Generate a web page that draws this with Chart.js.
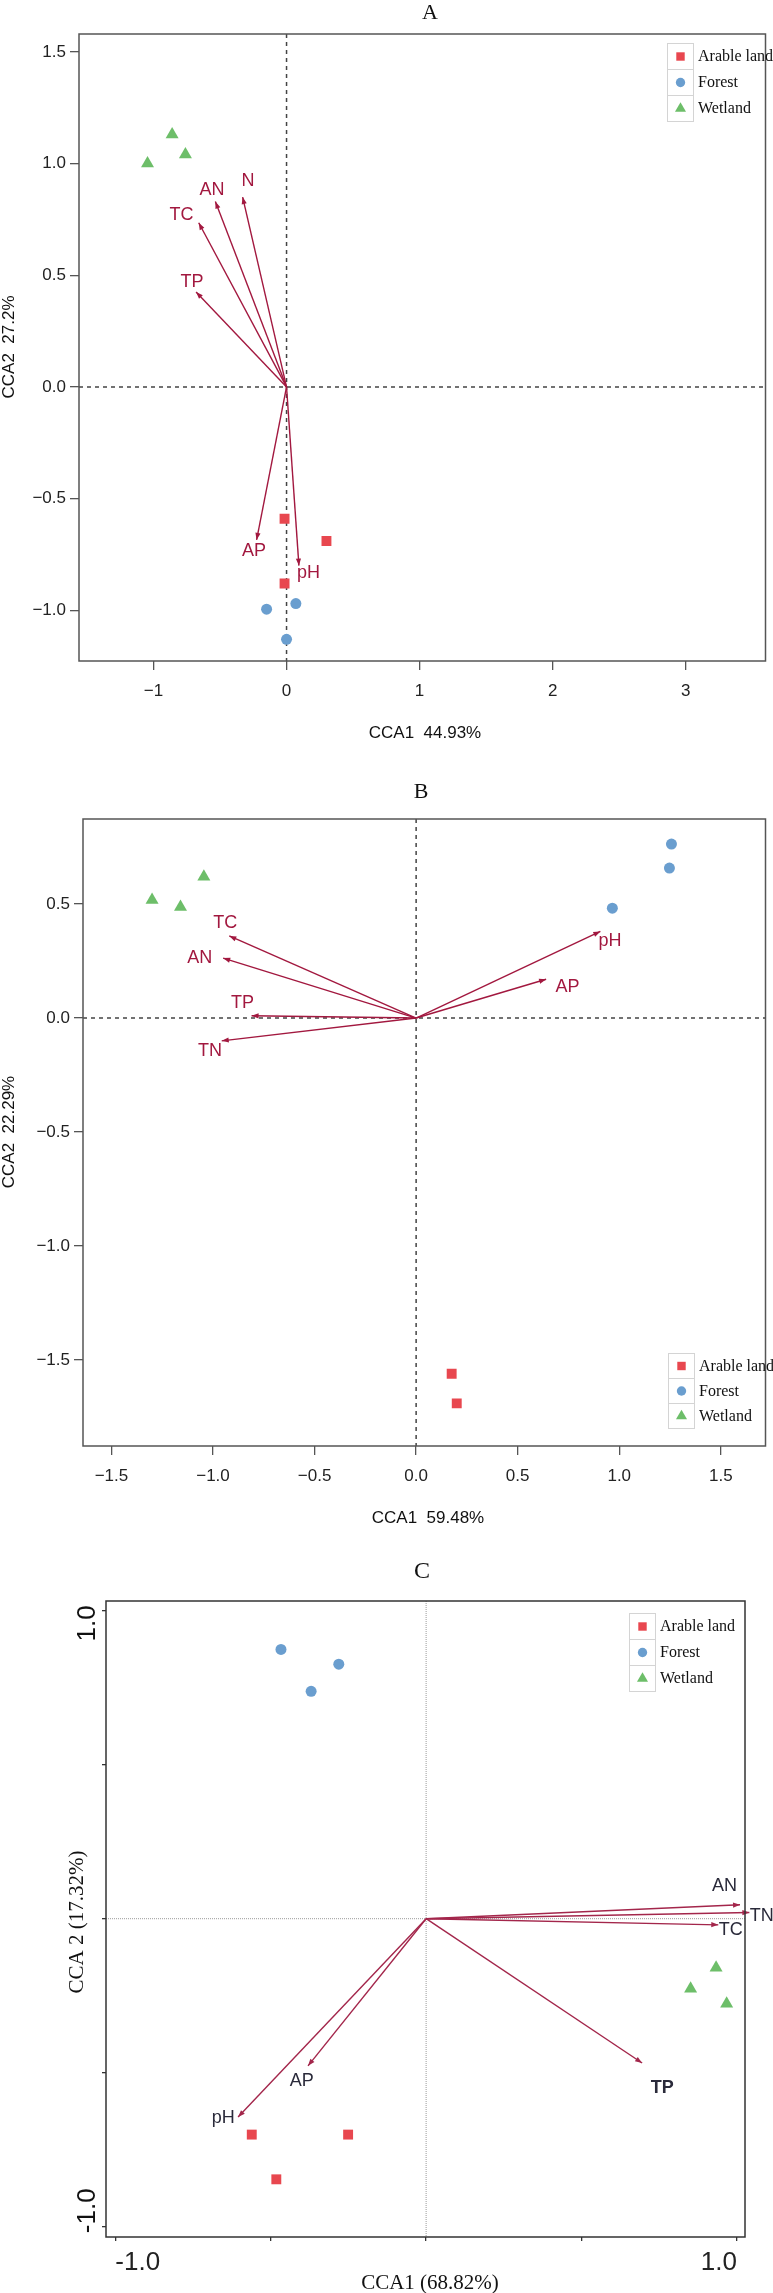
<!DOCTYPE html>
<html>
<head>
<meta charset="utf-8">
<script src="https://cdn.jsdelivr.net/npm/chart.js@4.4.1/dist/chart.umd.min.js"></script>
<style>
  body { margin: 0; background: #fff; }
  #wrap { position: relative; width: 773px; height: 2293px; }
  canvas { position: absolute; left: 0; }
</style>
</head>
<body>
<div id="wrap">
  <canvas id="cca-a" width="773" height="750" style="top:0"></canvas>
  <canvas id="cca-b" width="773" height="790" style="top:750px"></canvas>
  <canvas id="cca-c" width="773" height="753" style="top:1540px"></canvas>
</div>
<script>
// groups (same for all panels)
const groups = ['Arable land', 'Forest', 'Wetland'];
const groupColors = ['#E8474F', '#6A9ECF', '#6DBE69'];
const groupStyles = ['rect', 'circle', 'triangle'];
const groupRadius = [7, 5.5, 7.5];

// ---- Panel A : CCA1 44.93% / CCA2 27.2%
const aArableX = [-0.015, 0.30, -0.015];
const aArableY = [-0.59, -0.69, -0.88];
const aForestX = [-0.15, 0.07, 0.0];
const aForestY = [-0.995, -0.97, -1.13];
const aWetlandX = [-1.045, -0.86, -0.76];
const aWetlandY = [1.0, 1.13, 1.04];
const aEnv = ['N', 'AN', 'TC', 'TP', 'AP', 'pH'];
const aEnvX = [-0.33, -0.535, -0.66, -0.68, -0.225, 0.093];
const aEnvY = [0.85, 0.83, 0.735, 0.425, -0.685, -0.80];
const aLabelX = [-0.29, -0.56, -0.79, -0.71, -0.245, 0.165];
const aLabelY = [0.92, 0.88, 0.77, 0.47, -0.735, -0.835];
const aXTicks = [-1, 0, 1, 2, 3];
const aYTicks = [-1.0, -0.5, 0.0, 0.5, 1.0, 1.5];

// ---- Panel B : CCA1 59.48% / CCA2 22.29%
const bArableX = [0.175, 0.20];
const bArableY = [-1.56, -1.69];
const bForestX = [0.966, 1.247, 1.257];
const bForestY = [0.482, 0.658, 0.763];
const bWetlandX = [-1.30, -1.16, -1.045];
const bWetlandY = [0.518, 0.487, 0.62];
const bEnv = ['TC', 'AN', 'TP', 'TN', 'pH', 'AP'];
const bEnvX = [-0.92, -0.95, -0.81, -0.957, 0.907, 0.64];
const bEnvY = [0.36, 0.263, 0.01, -0.10, 0.38, 0.17];
const bLabelX = [-0.94, -1.065, -0.855, -1.015, 0.955, 0.745];
const bLabelY = [0.417, 0.263, 0.066, -0.145, 0.338, 0.135];
const bXTicks = [-1.5, -1.0, -0.5, 0.0, 0.5, 1.0, 1.5];
const bYTicks = [-1.5, -1.0, -0.5, 0.0, 0.5];

// ---- Panel C : CCA1 (68.82%) / CCA 2 (17.32%)
const cArableX = [-0.561, -0.251, -0.482];
const cArableY = [-0.70, -0.70, -0.845];
const cForestX = [-0.467, -0.281, -0.37];
const cForestY = [0.873, 0.825, 0.737];
const cWetlandX = [0.933, 0.851, 0.967];
const cWetlandY = [-0.159, -0.227, -0.276];
const cEnv = ['AN', 'TN', 'TC', 'TP', 'AP', 'pH'];
const cEnvX = [1.01, 1.04, 0.94, 0.695, -0.38, -0.605];
const cEnvY = [0.045, 0.02, -0.02, -0.468, -0.477, -0.643];
const cLabelX = [0.96, 1.08, 0.98, 0.76, -0.40, -0.653];
const cLabelY = [0.107, 0.01, -0.038, -0.55, -0.525, -0.647];
const cTicks = [-1.0, -0.5, 0.0, 0.5, 1.0];

const SANS = '"Liberation Sans", Arial, sans-serif';
const SERIF = '"Liberation Serif", "Times New Roman", serif';
const minus = v => (v < 0 ? '\u2212' : '') + Math.abs(v);
const fmt1 = v => (v < 0 ? '\u2212' : '') + Math.abs(v).toFixed(1);

// рамка, нулевые линии, стрелки, подписи, легенда
const decor = {
  id: 'decor',
  beforeDatasetsDraw(chart, args, o) {
    const { ctx, chartArea: a, scales: { x, y } } = chart;
    const x0 = x.getPixelForValue(0), y0 = y.getPixelForValue(0);
    ctx.save();
    ctx.strokeStyle = o.zero.color;
    ctx.lineWidth = o.zero.width;
    ctx.setLineDash(o.zero.dash);
    ctx.beginPath();
    ctx.moveTo(x0, a.top); ctx.lineTo(x0, a.bottom);
    ctx.moveTo(a.left, y0); ctx.lineTo(a.right, y0);
    ctx.stroke();
    ctx.restore();
  },
  afterDatasetsDraw(chart, args, o) {
    const { ctx, scales: { x, y } } = chart;
    ctx.save();
    chart.data.datasets.forEach((ds, i) => {
      if (!ds.envLabel) return;
      const pts = chart.getDatasetMeta(i).data;
      const p0 = pts[0], p1 = pts[1];
      const ang = Math.atan2(p1.y - p0.y, p1.x - p0.x);
      const hl = 7, hw = 2.6;
      const c = Math.cos(ang), s = Math.sin(ang);
      ctx.fillStyle = ds.borderColor;
      ctx.beginPath();
      ctx.moveTo(p1.x, p1.y);
      ctx.lineTo(p1.x - hl * c + hw * s, p1.y - hl * s - hw * c);
      ctx.lineTo(p1.x - hl * c - hw * s, p1.y - hl * s + hw * c);
      ctx.closePath();
      ctx.fill();
      ctx.fillStyle = o.labelColor;
      ctx.font = (ds.bold ? 'bold ' : '') + o.labelFont;
      ctx.textAlign = 'center';
      ctx.textBaseline = 'middle';
      ctx.fillText(ds.envLabel, x.getPixelForValue(ds.labelAt.x), y.getPixelForValue(ds.labelAt.y));
    });
    ctx.restore();
  },
  afterDraw(chart, args, o) {
    const { ctx, chartArea: a } = chart;
    ctx.save();
    // рамка
    ctx.strokeStyle = o.frame.color;
    ctx.lineWidth = o.frame.width;
    ctx.strokeRect(a.left, a.top, a.right - a.left, a.bottom - a.top);

    // заголовки
    ctx.fillStyle = '#111';
    ctx.textAlign = 'center';
    ctx.textBaseline = 'middle';
    ctx.font = o.title.font;
    ctx.fillText(o.title.text, o.title.x, o.title.y);
    ctx.font = o.xTitle.font;
    ctx.fillText(o.xTitle.text, o.xTitle.x, o.xTitle.y);
    ctx.save();
    ctx.translate(o.yTitle.x, o.yTitle.y);
    ctx.rotate(-Math.PI / 2);
    ctx.font = o.yTitle.font;
    ctx.fillText(o.yTitle.text, 0, 0);
    ctx.restore();

    // повернутые подписи оси Y (только панель C)
    if (o.yRotLabels) {
      const ys = chart.scales.y;
      ctx.font = o.yRotLabels.font;
      ctx.fillStyle = '#111';
      o.yRotLabels.items.forEach(it => {
        ctx.save();
        ctx.translate(o.yRotLabels.x, ys.getPixelForValue(it.value) + it.shift);
        ctx.rotate(-Math.PI / 2);
        ctx.textAlign = it.align;
        ctx.fillText(it.text, 0, 0);
        ctx.restore();
      });
    }

    // легенда
    const L = o.legend;
    chart.data.datasets.forEach((ds, i) => {
      if (ds.envLabel) return;
      const top = L.y + i * L.rowH;
      ctx.strokeStyle = '#d4d4d4';
      ctx.lineWidth = 1;
      ctx.setLineDash([]);
      ctx.strokeRect(L.x + 0.5, top + 0.5, L.cellW, L.rowH);
      ctx.fillStyle = ds.backgroundColor;
      Chart.helpers.drawPoint(ctx, { pointStyle: ds.pointStyle, radius: ds.pointRadius * 0.85, rotation: 0, borderWidth: 0 },
        L.x + L.cellW / 2 + 0.5, top + L.rowH / 2 + 0.5);
      ctx.fillStyle = '#111';
      ctx.font = L.font;
      ctx.textAlign = 'left';
      ctx.fillText(ds.label, L.x + L.cellW + 5, top + L.rowH / 2 + 1);
    });
    ctx.restore();
  }
};

function buildPanel(id, p) {
  const canvas = document.getElementById(id);
  const H = canvas.height;
  const datasets = [];
  p.sites.forEach((s, k) => datasets.push({
    label: groups[k],
    data: s.x.map((v, j) => ({ x: v, y: s.y[j] })),
    pointStyle: groupStyles[k],
    backgroundColor: groupColors[k],
    pointBackgroundColor: groupColors[k],
    pointRadius: groupRadius[k],
    pointBorderWidth: 0,
    borderWidth: 0
  }));
  p.env.forEach((name, i) => datasets.push({
    envLabel: name,
    bold: p.boldLabels && p.boldLabels.includes(name),
    labelAt: { x: p.labX[i], y: p.labY[i] },
    data: [{ x: 0, y: 0 }, { x: p.envX[i], y: p.envY[i] }],
    showLine: true,
    borderColor: p.arrowColor,
    borderWidth: 1.4,
    pointRadius: 0,
    clip: false
  }));

  const tickFont = { family: SANS, size: p.tickSize };
  return new Chart(canvas, {
    type: 'scatter',
    data: { datasets },
    options: {
      responsive: false,
      animation: false,
      devicePixelRatio: 1,
      layout: { padding: { left: 0, top: p.box.top, right: 773 - p.box.right, bottom: 0 } },
      plugins: {
        legend: { display: false },
        tooltip: { enabled: false },
        decor: p.decor
      },
      scales: {
        x: {
          type: 'linear', min: p.xRange[0], max: p.xRange[1],
          afterBuildTicks: s => { s.ticks = p.xTicks.map(v => ({ value: v })); },
          afterFit: s => { s.height = H - p.box.bottom; },
          grid: { display: true, drawOnChartArea: false, drawTicks: true, tickLength: p.tickLen, color: p.tickColor, lineWidth: 1.3 },
          border: { display: false },
          ticks: { font: tickFont, color: '#222', padding: p.xPad, maxRotation: 0, autoSkip: false, align: p.xAlign || 'center', callback: v => p.xFmt(v) }
        },
        y: {
          type: 'linear', min: p.yRange[0], max: p.yRange[1],
          afterBuildTicks: s => { s.ticks = p.yTicks.map(v => ({ value: v })); },
          afterFit: s => { s.width = p.box.left; },
          grid: { display: true, drawOnChartArea: false, drawTicks: true, tickLength: p.tickLen, color: p.tickColor, lineWidth: 1.3 },
          border: { display: false },
          ticks: { font: tickFont, color: '#222', padding: 4, autoSkip: false, callback: v => p.yFmt(v) }
        }
      }
    },
    plugins: [decor]
  });
}

buildPanel('cca-a', {
  sites: [{ x: aArableX, y: aArableY }, { x: aForestX, y: aForestY }, { x: aWetlandX, y: aWetlandY }],
  env: aEnv, envX: aEnvX, envY: aEnvY, labX: aLabelX, labY: aLabelY,
  arrowColor: '#A2183F',
  xRange: [-1.56, 3.6], yRange: [-1.227, 1.58],
  xTicks: aXTicks, yTicks: aYTicks,
  xFmt: minus, yFmt: fmt1,
  box: { left: 79, top: 34, right: 772, bottom: 661 },
  tickSize: 17, tickLen: 9, tickColor: '#555', xPad: 11,
  decor: {
    zero: { color: '#444', width: 1.5, dash: [4, 4] },
    frame: { color: '#555', width: 1.5 },
    labelColor: '#A2183F', labelFont: '18px ' + SANS,
    title: { text: 'A', x: 430, y: 13, font: '22px ' + SERIF },
    xTitle: { text: 'CCA1  44.93%', x: 425, y: 733, font: '17px ' + SANS },
    yTitle: { text: 'CCA2  27.2%', x: 9, y: 347, font: '17px ' + SANS },
    legend: { x: 667, y: 43, cellW: 26, rowH: 26, font: '16px ' + SERIF }
  }
});

buildPanel('cca-b', {
  sites: [{ x: bArableX, y: bArableY }, { x: bForestX, y: bForestY }, { x: bWetlandX, y: bWetlandY }],
  env: bEnv, envX: bEnvX, envY: bEnvY, labX: bLabelX, labY: bLabelY,
  arrowColor: '#A2183F',
  xRange: [-1.64, 1.72], yRange: [-1.877, 0.873],
  xTicks: bXTicks, yTicks: bYTicks,
  xFmt: fmt1, yFmt: fmt1,
  box: { left: 83, top: 69, right: 772, bottom: 696 },
  tickSize: 17, tickLen: 9, tickColor: '#555', xPad: 11,
  decor: {
    zero: { color: '#444', width: 1.5, dash: [4, 4] },
    frame: { color: '#555', width: 1.5 },
    labelColor: '#A2183F', labelFont: '18px ' + SANS,
    title: { text: 'B', x: 421, y: 42, font: '22px ' + SERIF },
    xTitle: { text: 'CCA1  59.48%', x: 428, y: 768, font: '17px ' + SANS },
    yTitle: { text: 'CCA2  22.29%', x: 9, y: 382, font: '17px ' + SANS },
    legend: { x: 668, y: 603, cellW: 26, rowH: 25, font: '16px ' + SERIF }
  }
});

buildPanel('cca-c', {
  sites: [{ x: cArableX, y: cArableY }, { x: cForestX, y: cForestY }, { x: cWetlandX, y: cWetlandY }],
  env: cEnv, envX: cEnvX, envY: cEnvY, labX: cLabelX, labY: cLabelY,
  boldLabels: ['TP'],
  arrowColor: '#A3264B',
  xRange: [-1.03, 1.026], yRange: [-1.032, 1.03],
  xTicks: cTicks, yTicks: cTicks,
  xFmt: v => (v === -1 ? '-1.0' : v === 1 ? '1.0' : ''),
  yFmt: () => '',
  xAlign: 'inner',
  box: { left: 106, top: 61, right: 745, bottom: 697 },
  tickSize: 26, tickLen: 4, tickColor: '#333', xPad: 6,
  decor: {
    zero: { color: '#9a9a9a', width: 1, dash: [1, 1] },
    frame: { color: '#333', width: 1.5 },
    labelColor: '#2a2a3a', labelFont: '18px ' + SANS,
    title: { text: 'C', x: 422, y: 32, font: '24px ' + SERIF },
    xTitle: { text: 'CCA1 (68.82%)', x: 430, y: 743, font: '21px ' + SERIF },
    yTitle: { text: 'CCA 2 (17.32%)', x: 77, y: 382, font: '21px ' + SERIF },
    yRotLabels: {
      x: 88, font: '26px ' + SANS,
      items: [{ value: 1, text: '1.0', align: 'right', shift: -5 }, { value: -1, text: '-1.0', align: 'left', shift: 6 }]
    },
    legend: { x: 629, y: 73, cellW: 26, rowH: 26, font: '16px ' + SERIF }
  }
});
</script>
</body>
</html>
